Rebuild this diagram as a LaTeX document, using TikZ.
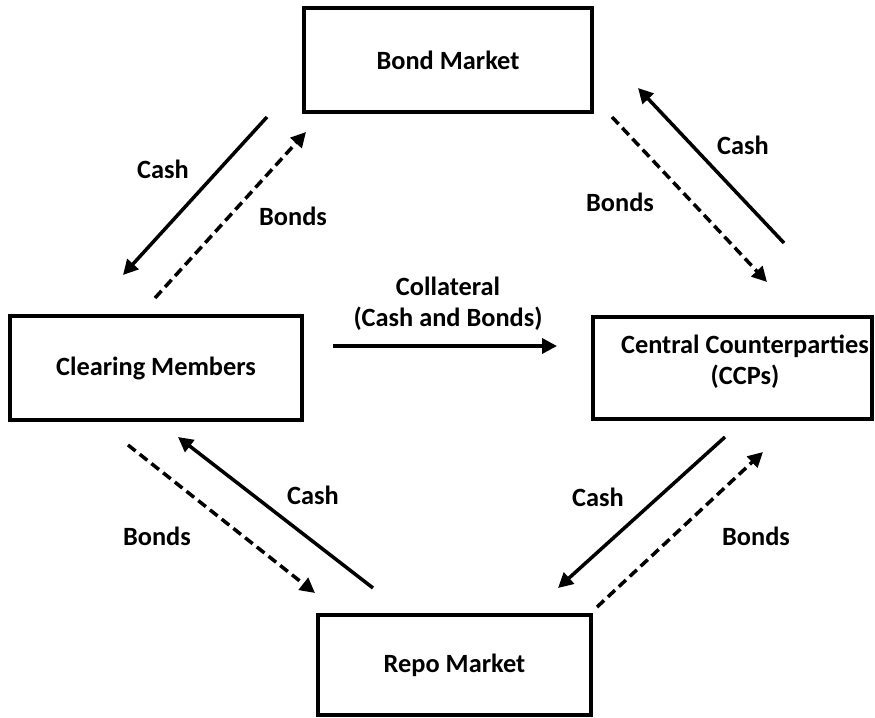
\documentclass[tikz,border=0pt]{standalone}
\usepackage{fontspec}
\setmainfont{Carlito}
\usetikzlibrary{arrows.meta}

\tikzset{
  market/.style={draw,line width=1.8pt,inner sep=0pt,font=\bfseries},
  cashflow/.style={line width=2pt,-{Triangle[length=8.5pt,width=8.5pt]}},
  bondflow/.style={cashflow,dash pattern=on 5.5pt off 3pt},
  flowtext/.style={font=\bfseries,align=center}
}

\begin{document}
\fontsize{15}{17.5}\selectfont
\begin{tikzpicture}[x=0.02cm,y=-0.02cm]

\useasboundingbox (0,0) rectangle (875,717);

% the four boxes
\node[market,minimum width=5.76cm,minimum height=2.08cm] (bond) at (448,60) {Bond Market};
\node[market,minimum width=5.84cm,minimum height=2.08cm] (clearing) at (156,368) {Clearing Members};
\node[market,minimum width=5.58cm,minimum height=2.04cm] (ccp) at (732.5,368) {};
\node[flowtext] (ccptext) at (745,362) {Central Counterparties\\(CCPs)};
\node[market,minimum width=5.46cm,minimum height=2.0cm] (repo) at (454.5,665) {Repo Market};

% arrow ends
\coordinate (bcash1) at (267,117);  \coordinate (bcash2) at (123,275);
\coordinate (bbond1) at (155,298);  \coordinate (bbond2) at (306,132);
\coordinate (ccash1) at (784,243);  \coordinate (ccash2) at (638,88);
\coordinate (cbond1) at (612,117);  \coordinate (cbond2) at (767,282);
\coordinate (coll1) at (333,346);   \coordinate (coll2) at (557,346);
\coordinate (rbond1) at (128,445);  \coordinate (rbond2) at (315,593);
\coordinate (rcash1) at (373,588);  \coordinate (rcash2) at (178,437);
\coordinate (qcash1) at (725,437);  \coordinate (qcash2) at (558,588);
\coordinate (qbond1) at (597,607);  \coordinate (qbond2) at (763,452);

% bond market <-> clearing members
\draw[cashflow] (bcash1) -- (bcash2);
\draw[bondflow] (bbond1) -- (bbond2);
\node[flowtext] (lcash1) at (163,169) {Cash};
\node[flowtext] (lbond1) at (293,216) {Bonds};

% bond market <-> ccps
\draw[cashflow] (ccash1) -- (ccash2);
\draw[bondflow] (cbond1) -- (cbond2);
\node[flowtext] (lcash2) at (743,145) {Cash};
\node[flowtext] (lbond2) at (620,202) {Bonds};

% collateral
\draw[cashflow] (coll1) -- (coll2);
\node[flowtext] (lcoll) at (448,304) {Collateral\\(Cash and Bonds)};

% repo market <-> clearing members
\draw[bondflow] (rbond1) -- (rbond2);
\draw[cashflow] (rcash1) -- (rcash2);
\node[flowtext] (lcash3) at (313,495) {Cash};
\node[flowtext] (lbond3) at (157,536) {Bonds};

% repo market <-> ccps
\draw[cashflow] (qcash1) -- (qcash2);
\draw[bondflow] (qbond1) -- (qbond2);
\node[flowtext] (lcash4) at (598,497) {Cash};
\node[flowtext] (lbond4) at (756,536) {Bonds};

\end{tikzpicture}
\end{document}
